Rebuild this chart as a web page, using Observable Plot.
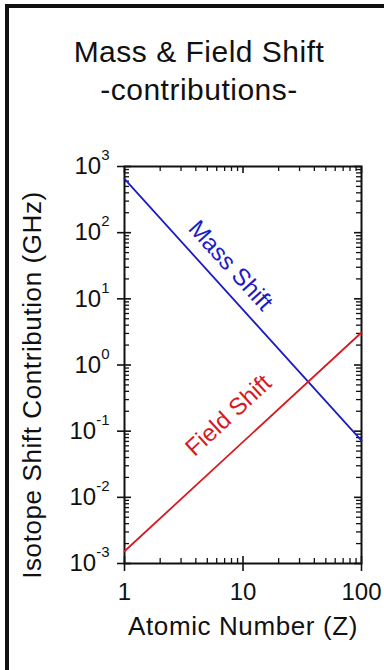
<!DOCTYPE html>
<html>
<head>
<meta charset="utf-8">
<script src="https://cdn.jsdelivr.net/npm/d3@7"></script>
<script src="https://cdn.jsdelivr.net/npm/@observablehq/plot@0.6"></script>
<style>
  html, body { margin: 0; padding: 0; background: #fff; }
  #wrap { position: relative; width: 384px; height: 670px; overflow: hidden;
          font-family: "Liberation Sans", Arial, sans-serif; color: #111; }
  #bt { position: absolute; left: 5px; top: 4px; right: 0; height: 4px; background: #111; }
  #bl { position: absolute; left: 5px; top: 4px; bottom: 0; width: 4px; background: #111; }
  #title { position: absolute; left: 14px; width: 370px; top: 33px; text-align: center;
           font-size: 30px; line-height: 38px; letter-spacing: 0.5px; }
  #chart { position: absolute; left: 0; top: 130px; }
  #chart svg { overflow: visible; }
</style>
</head>
<body>
<div id="wrap">
  <div id="bt"></div>
  <div id="bl"></div>
  <div id="title">Mass &amp; Field Shift<br>-contributions-</div>
  <div id="chart"></div>
</div>
<script>
// ---- data ----
const atomicNumber = [1, 100];
const massShift = [650, 0.072];
const fieldShift = [0.00153, 3.1];
const xTicks = [1, 10, 100];
const xTickLabels = ["1", "10", "100"];
const yTicks = [1e-3, 1e-2, 1e-1, 1, 10, 100, 1000];
const yTickExponents = ["-3", "-2", "-1", "0", "1", "2", "3"];
const seriesNames = ["Mass Shift", "Field Shift"];
const labelZ = [7.84, 7.55];
const labelValue = [31.9, 0.173];
const xTitle = "Atomic Number (Z)";
const yTitle = "Isotope Shift Contribution (GHz)";

// ---- layout ----
const W = 384, H = 540;
const mL = 124, mR = 23, mT = 36, mB = 107;
const innerW = W - mL - mR, innerH = H - mT - mB;
const blue = "#1c1cc4", red = "#d81a1e", ink = "#111";

const rows = [];
atomicNumber.forEach((z, i) => {
  rows.push({series: seriesNames[0], z, v: massShift[i]});
  rows.push({series: seriesNames[1], z, v: fieldShift[i]});
});

// minor ticks
const xMinor = [], yMinor = [];
for (let d = 1; d < 100; d *= 10) for (let k = 2; k <= 9; k++) xMinor.push(k * d);
for (let d = 1e-3; d < 999; d *= 10) for (let k = 2; k <= 9; k++) yMinor.push(k * d);

// label angles from slopes in pixel space
const pxX = innerW / 2, pxY = innerH / 6;
function angle(vals) {
  const dlx = Math.log10(atomicNumber[1]) - Math.log10(atomicNumber[0]);
  const dly = Math.log10(vals[1]) - Math.log10(vals[0]);
  return Math.atan2(-dly * pxY, dlx * pxX) * 180 / Math.PI;
}
const labels = seriesNames.map((s, i) => ({
  text: s, z: labelZ[i], v: labelValue[i],
  rot: angle(i === 0 ? massShift : fieldShift),
  color: i === 0 ? blue : red
}));

const plot = Plot.plot({
  width: W, height: H,
  marginLeft: mL, marginRight: mR, marginTop: mT, marginBottom: mB,
  style: {fontFamily: '"Liberation Sans", Arial, sans-serif', fontSize: "24px", color: ink, background: "transparent", overflow: "visible"},
  x: {type: "log", domain: [1, 100]},
  y: {type: "log", domain: [1e-3, 1e3]},
  marks: [
    // minor ticks (inward) on all four sides
    Plot.tickX(xMinor, {x: d => d, insetTop: innerH - 5, stroke: ink, strokeWidth: 1.3}),
    Plot.tickX(xMinor, {x: d => d, insetBottom: innerH - 5, stroke: ink, strokeWidth: 1.3}),
    Plot.tickY(yMinor, {y: d => d, insetRight: innerW - 5, stroke: ink, strokeWidth: 1.3}),
    Plot.tickY(yMinor, {y: d => d, insetLeft: innerW - 5, stroke: ink, strokeWidth: 1.3}),
    // major ticks: crossing on bottom/left, inward on top/right
    Plot.tickX(xTicks, {x: d => d, insetTop: innerH - 7, insetBottom: -8, stroke: ink, strokeWidth: 1.6}),
    Plot.tickX(xTicks, {x: d => d, insetBottom: innerH - 7, stroke: ink, strokeWidth: 1.6}),
    Plot.tickY(yTicks, {y: d => d, insetRight: innerW - 7, insetLeft: -7, stroke: ink, strokeWidth: 1.6}),
    Plot.tickY(yTicks, {y: d => d, insetLeft: innerW - 7, stroke: ink, strokeWidth: 1.6}),
    Plot.frame({stroke: ink, strokeWidth: 2}),
    // tick labels
    Plot.axisX({ticks: xTicks, tickSize: 0, tickPadding: 19, fontSize: 24,
      tickFormat: d => xTickLabels[xTicks.indexOf(d)], label: null}),
    Plot.axisY({ticks: yTicks, tickSize: 0, tickPadding: 15, fontSize: 24,
      tickFormat: d => "10^" + yTickExponents[yTicks.indexOf(d)], label: null}),
    // axis titles
    Plot.text([xTitle], {frameAnchor: "bottom", textAnchor: "middle", dy: 71, fontSize: 26, fill: ink}),
    Plot.text([yTitle], {frameAnchor: "left", textAnchor: "middle", dx: -92, dy: 20, rotate: -90, fontSize: 26, fill: ink}),
    // lines
    Plot.line(rows, {x: "z", y: "v", z: "series",
      stroke: d => d.series === seriesNames[0] ? blue : red, strokeWidth: 1.8}),
    // in-plot labels
    Plot.text(labels, {x: "z", y: "v", text: "text", rotate: "rot", fill: "color", fontSize: 24})
  ]
});

// superscripts for y tick labels
d3.select(plot).selectAll("g[aria-label='y-axis tick label'] text").each(function () {
  const parts = this.textContent.split("^");
  this.textContent = parts[0];
  d3.select(this).append("tspan").attr("dy", "-14").attr("font-size", "15px").text(parts[1]);
});
// slight letter spacing on axis titles
d3.select(plot).selectAll("text").each(function () {
  if (this.textContent === xTitle || this.textContent === yTitle) this.style.letterSpacing = "0.6px";
});

document.getElementById("chart").appendChild(plot);
</script>
</body>
</html>
